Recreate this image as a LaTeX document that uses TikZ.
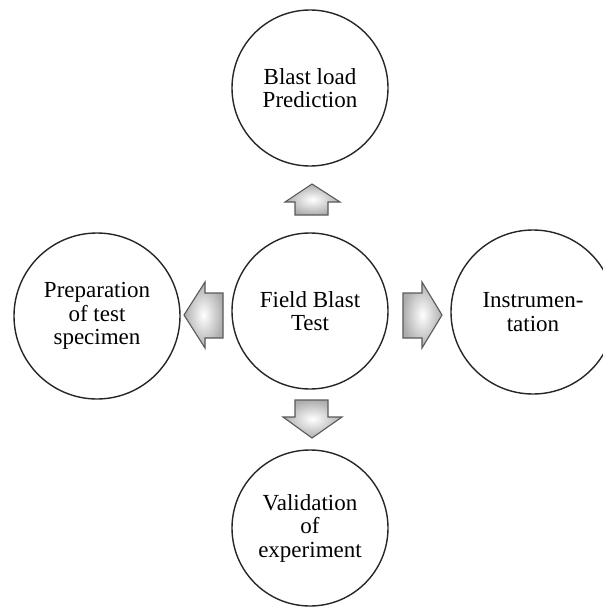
\documentclass[tikz,border=0pt]{standalone}
\usepackage{fontspec}
\setmainfont{Liberation Serif}
\begin{document}
\begin{tikzpicture}[x=1pt,y=-1pt,
  circ/.style={circle,draw=black!85,line width=1.4pt,fill=white,minimum size=156pt,inner sep=0pt,align=center,font=\fontsize{23}{23.5}\selectfont},
  blk/.style={draw=black!65,line width=1.1pt,line join=miter,inner color=white,outer color=black!32}]
\useasboundingbox (0,0) rectangle (602,610);
\node[circ] (center) at (310,311) {Field Blast\\Test};
\node[circ] (top) at (310,88) {Blast load\\Prediction};
\node[circ] (bottom) at (310,528) {Validation\\of\\experiment};
\node[circ,minimum size=166pt] (left) at (97,316) {Preparation\\of test\\specimen};
\node[circ,minimum size=164pt] (right) at (533,312) {Instrumen-\\tation};
% up arrow
\path[blk] (312,184) -- (340,202) -- (328,202) -- (328,215) -- (295,215) -- (295,202) -- (285,202) -- cycle;
% down arrow
\path[blk] (312,438) -- (342,417) -- (328,417) -- (328,400) -- (295,400) -- (295,417) -- (283,417) -- cycle;
% left arrow
\path[blk] (184,315) -- (205,282) -- (205,293) -- (223,293) -- (223,338) -- (205,338) -- (205,348) -- cycle;
% right arrow
\path[blk] (442,315) -- (422,282) -- (422,293) -- (403,293) -- (403,338) -- (422,338) -- (422,348) -- cycle;
\end{tikzpicture}
\end{document}
